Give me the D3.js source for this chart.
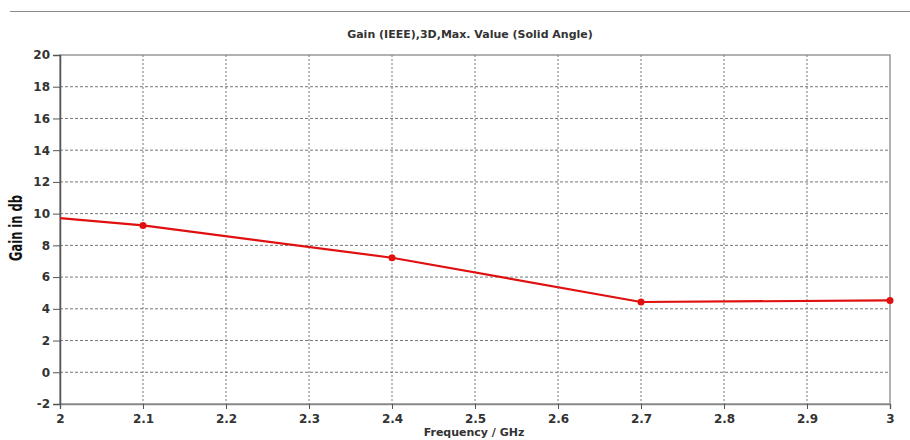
<!DOCTYPE html>
<html>
<head>
<meta charset="utf-8">
<script src="https://cdn.jsdelivr.net/npm/d3@7"></script>
<style>
  html, body { margin: 0; padding: 0; background: #fff; }
  svg { display: block; }
  text { font-family: "DejaVu Sans", Verdana, sans-serif; }
</style>
</head>
<body>
<svg id="chart" width="910" height="440"></svg>
<script>
// Gain vs frequency samples
const frequency = [2.0, 2.1, 2.4, 2.7, 3.0];
const gain      = [9.72, 9.26, 7.22, 4.43, 4.53];
// Frequencies that carry a sample marker
const markerFreq = [2.1, 2.4, 2.7, 3.0];

const xTicks = [2, 2.1, 2.2, 2.3, 2.4, 2.5, 2.6, 2.7, 2.8, 2.9, 3];
const yTicks = [-2, 0, 2, 4, 6, 8, 10, 12, 14, 16, 18, 20];

const titleText = "Gain (IEEE),3D,Max. Value (Solid Angle)";
const xLabel = "Frequency / GHz";
const yLabel = "Gain in db";

const svg = d3.select("#chart");
const m = { left: 60, right: 20, top: 55, bottom: 36 };
const W = 910, H = 440;
const iw = W - m.left - m.right, ih = H - m.top - m.bottom;

const x = d3.scaleLinear().domain([2, 3]).range([m.left, m.left + iw]);
const y = d3.scaleLinear().domain([-2, 20]).range([m.top + ih, m.top]);

// header rule
svg.append("line").attr("x1", 10).attr("x2", 910).attr("y1", 11.5).attr("y2", 11.5)
  .attr("stroke", "#8a8a8a").attr("stroke-width", 1.2);

// title
svg.append("text").attr("x", 470).attr("y", 38).attr("text-anchor", "middle")
  .attr("font-size", 11).attr("font-weight", "bold").attr("fill", "#333")
  .text(titleText);

// grid
const grid = svg.append("g");
grid.selectAll(".vg").data(xTicks.slice(1, -1)).join("line")
  .attr("x1", d => x(d)).attr("x2", d => x(d))
  .attr("y1", m.top).attr("y2", m.top + ih)
  .attr("stroke", "#777").attr("stroke-width", 1).attr("stroke-dasharray", "2,2");
grid.selectAll(".hg").data(yTicks.slice(1, -1)).join("line")
  .attr("x1", m.left).attr("x2", m.left + iw)
  .attr("y1", d => y(d)).attr("y2", d => y(d))
  .attr("stroke", "#777").attr("stroke-width", 1).attr("stroke-dasharray", "3,2");

// frame
svg.append("rect").attr("x", m.left).attr("y", m.top).attr("width", iw).attr("height", ih)
  .attr("fill", "none").attr("stroke", "#888").attr("stroke-width", 1.3);

// axes
const fmt = d => String(d);
const xAxis = svg.append("g").attr("transform", `translate(0,${m.top + ih})`)
  .call(d3.axisBottom(x).tickValues(xTicks).tickFormat(fmt).tickSize(5).tickPadding(5));
const yAxis = svg.append("g").attr("transform", `translate(${m.left},0)`)
  .call(d3.axisLeft(y).tickValues(yTicks).tickFormat(fmt).tickSize(7).tickPadding(3));
[xAxis, yAxis].forEach(a => {
  a.select(".domain").attr("stroke", "#555").attr("stroke-width", 1.5);
  a.selectAll(".tick line").attr("stroke", "#555");
  a.selectAll(".tick text").attr("font-size", 12).attr("font-weight", "bold").attr("fill", "#333")
    .style("font-family", "'DejaVu Sans', Verdana, sans-serif");
});
xAxis.select(".domain").attr("stroke", "#888");

// axis labels
svg.append("text").attr("x", 474).attr("y", 436).attr("text-anchor", "middle")
  .attr("font-size", 11).attr("font-weight", "bold").attr("fill", "#333")
  .text(xLabel);
svg.append("text").attr("transform", `translate(22,228) rotate(-90)`)
  .attr("text-anchor", "middle")
  .style("font-family", "'Liberation Sans Narrow', 'DejaVu Sans Condensed', sans-serif")
  .attr("font-size", 17).attr("font-weight", "bold").attr("fill", "#111")
  .attr("textLength", 66).attr("lengthAdjust", "spacingAndGlyphs")
  .text(yLabel);

// series
const pts = frequency.map((f, i) => ({ f, g: gain[i] }));
svg.append("path").datum(pts)
  .attr("fill", "none").attr("stroke", "#e01010").attr("stroke-width", 2.2)
  .attr("d", d3.line().x(d => x(d.f)).y(d => y(d.g)));
svg.selectAll(".mk").data(pts.filter(d => markerFreq.includes(d.f))).join("circle")
  .attr("cx", d => x(d.f)).attr("cy", d => y(d.g)).attr("r", 3.5)
  .attr("fill", "#e01010");
</script>
</body>
</html>
